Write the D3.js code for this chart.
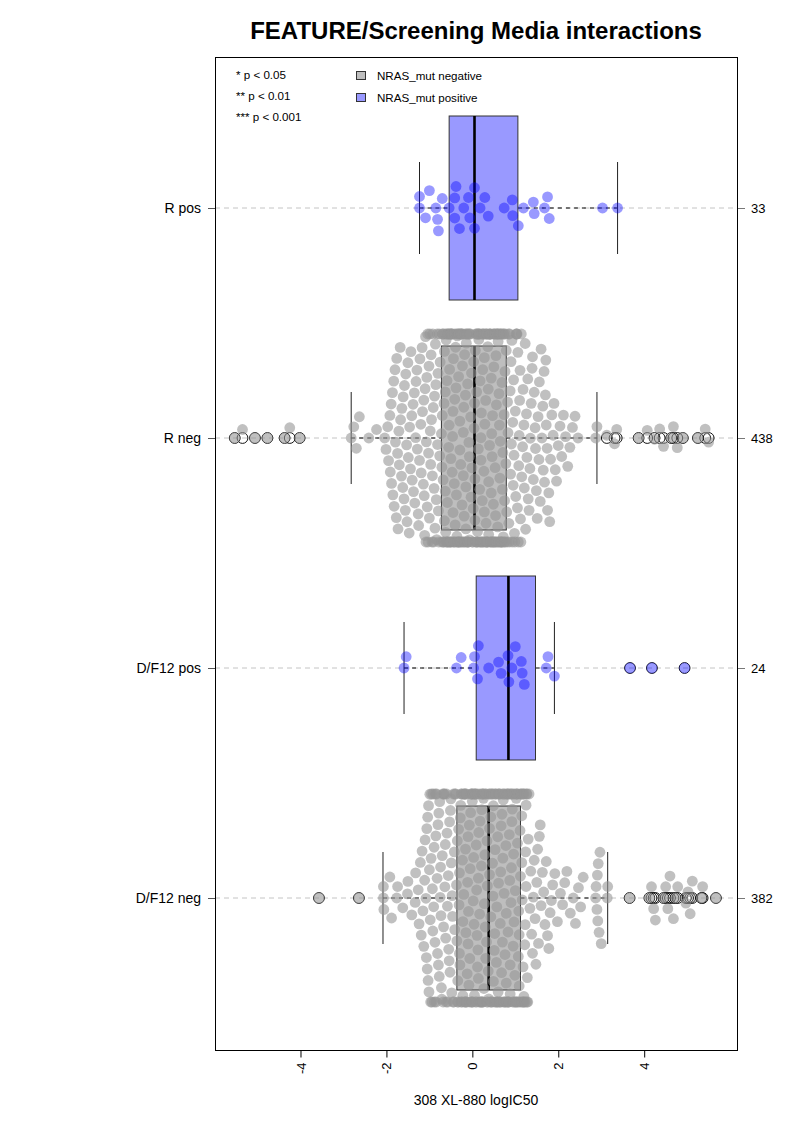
<!DOCTYPE html>
<html><head><meta charset="utf-8">
<script src="https://cdn.jsdelivr.net/npm/d3@7"></script>
<style>
body{margin:0;background:#fff}
text{font-family:"Liberation Sans",Arial,Helvetica,sans-serif;fill:#000}
</style></head>
<body><svg id="chart" width="793" height="1122"></svg>
<script>
// ---------------- data ----------------
const categories = ["R pos", "R neg", "D/F12 pos", "D/F12 neg"]; // top to bottom
const groupKind = ["pos", "neg", "pos", "neg"];

const rPosValues = [-1.23,-1.23,-1.09,-1.00,-0.85,-0.81,-0.79,-0.70,-0.54,-0.41,-0.41,-0.38,-0.30,-0.20,-0.09,-0.06,0.05,0.05,0.18,0.29,0.37,0.74,0.93,0.94,1.07,1.19,1.42,1.44,1.68,1.75,1.79,3.03,3.38];

const rNegValues = [-5.53,-5.35,-5.06,-4.77,-4.37,-4.25,-4.02,
 -2.82,-2.76,-2.70,-2.63,-2.41,-2.23,-2.04,-2.01,-1.97,-1.95,
 -1.92,-1.91,-1.89,-1.88,-1.86,-1.85,-1.83,-1.82,-1.80,-1.79,-1.77,-1.76,-1.74,-1.73,-1.71,-1.70,-1.68,-1.67,-1.65,-1.64,-1.62,-1.61,-1.59,-1.58,-1.56,-1.55,-1.53,-1.52,-1.50,-1.49,-1.47,-1.46,-1.44,-1.43,-1.41,-1.40,-1.38,-1.37,-1.35,-1.34,-1.32,-1.31,-1.29,-1.28,-1.26,-1.25,-1.23,-1.22,-1.20,-1.19,-1.17,-1.16,
 -1.14,-1.13,-1.12,-1.11,-1.10,-1.09,-1.08,-1.07,-1.06,-1.05,-1.04,-1.03,-1.02,-1.01,-1.00,-0.99,-0.98,-0.97,-0.96,-0.95,-0.94,-0.93,-0.92,-0.91,-0.90,-0.89,-0.88,-0.87,-0.86,-0.85,-0.84,-0.83,-0.82,-0.81,-0.80,-0.79,-0.78,-0.77,-0.76,-0.75,
 -0.72,-0.71,-0.71,-0.70,-0.69,-0.69,-0.68,-0.67,-0.67,-0.66,-0.65,-0.65,-0.64,-0.63,-0.63,-0.62,-0.61,-0.61,-0.60,-0.59,-0.59,-0.58,-0.57,-0.57,-0.56,-0.55,-0.55,-0.54,-0.53,-0.53,-0.52,-0.51,-0.51,-0.50,-0.49,-0.49,-0.48,-0.47,-0.47,-0.46,-0.45,-0.45,-0.44,-0.43,-0.43,-0.42,-0.41,-0.41,-0.40,-0.39,-0.39,-0.38,-0.37,-0.37,-0.36,-0.35,-0.35,-0.34,-0.33,-0.33,-0.32,-0.31,-0.31,-0.30,-0.29,-0.29,-0.28,-0.27,-0.27,-0.26,-0.25,-0.25,-0.24,-0.23,-0.23,-0.22,-0.21,-0.21,-0.20,-0.19,-0.19,-0.18,-0.17,-0.17,-0.16,-0.15,-0.15,-0.14,-0.13,-0.13,-0.12,-0.11,-0.11,-0.10,-0.09,-0.09,-0.08,-0.07,-0.07,-0.06,-0.05,-0.04,-0.03,-0.02,-0.01,0.00,0.01,0.02,0.03,0.04,
 0.05,0.06,0.06,0.07,0.08,0.08,0.09,0.10,0.10,0.11,0.12,0.12,0.13,0.14,0.14,0.15,0.16,0.16,0.17,0.18,0.18,0.19,0.20,0.20,0.21,0.22,0.22,0.23,0.24,0.24,0.25,0.26,0.26,0.27,0.28,0.28,0.29,0.30,0.30,0.31,0.32,0.32,0.33,0.34,0.34,0.35,0.36,0.36,0.37,0.38,0.38,0.39,0.40,0.40,0.41,0.42,0.42,0.43,0.44,0.44,0.45,0.46,0.46,0.47,0.48,0.48,0.49,0.50,0.50,0.51,0.52,0.52,0.53,0.54,0.54,0.55,0.56,0.56,0.57,0.58,0.58,0.59,0.60,0.60,0.61,0.62,0.62,0.63,0.64,0.64,0.65,0.66,0.66,0.67,0.68,0.68,0.69,0.70,0.70,0.71,0.72,0.72,0.73,0.74,0.74,0.75,0.76,0.76,0.77,0.78,
 0.79,0.80,0.81,0.82,0.83,0.84,0.85,0.86,0.87,0.88,0.89,0.90,0.91,0.92,0.93,0.94,0.95,0.96,0.97,0.98,0.99,1.00,1.01,1.02,1.03,1.04,1.05,1.06,1.07,1.08,1.09,1.10,1.11,1.12,1.13,1.14,1.15,
 1.17,1.18,1.20,1.21,1.23,1.24,1.26,1.27,1.29,1.30,1.32,1.34,1.35,1.37,1.39,1.40,1.42,1.44,1.46,1.47,1.49,1.51,1.53,1.55,1.56,1.58,1.60,1.62,1.64,1.65,1.67,1.68,1.70,1.71,1.72,1.74,1.75,
 1.78,1.80,1.82,1.85,1.88,1.90,1.93,1.96,2.00,2.04,2.08,2.12,2.17,2.22,2.27,2.33,2.39,2.46,2.87,2.90,
 3.13,3.31,3.36,3.87,4.07,4.24,4.36,4.45,4.63,4.68,4.77,4.90,5.25,5.42,5.50];

const dfPosValues = [-1.59,-1.54,-0.37,-0.26,0.03,0.05,0.12,0.14,0.38,0.61,0.67,0.83,0.85,0.92,1.00,1.14,1.16,1.21,1.72,1.76,1.91,3.67,4.18,4.94];

const dfNegValues = [-3.57,-2.64,
 -2.07,-2.07,-2.06,-1.92,-1.88,-1.76,-1.74,-1.62,-1.51,-1.50,-1.41,-1.33,-1.32,-1.26,-1.24,-1.21,-1.19,-1.17,-1.15,-1.13,-1.11,
 -1.10,-1.08,-1.07,-1.06,-1.05,-1.04,-1.03,-1.02,-1.01,-1.00,-0.99,-0.98,-0.97,-0.96,-0.95,-0.94,-0.93,-0.92,-0.91,-0.90,-0.89,-0.88,-0.87,-0.86,-0.85,-0.84,-0.83,-0.82,-0.81,-0.80,-0.79,-0.78,-0.77,-0.76,-0.75,-0.74,-0.73,-0.72,-0.71,-0.70,-0.69,-0.68,-0.67,-0.66,-0.65,-0.64,-0.63,-0.62,-0.61,-0.60,-0.59,-0.58,-0.57,-0.56,-0.55,-0.54,-0.53,-0.52,-0.51,-0.50,-0.49,-0.48,-0.47,-0.46,-0.45,-0.44,-0.43,-0.42,-0.41,-0.40,-0.39,-0.37,
 -0.36,-0.35,-0.34,-0.34,-0.33,-0.32,-0.31,-0.30,-0.30,-0.29,-0.28,-0.27,-0.26,-0.26,-0.25,-0.24,-0.23,-0.22,-0.22,-0.21,-0.20,-0.19,-0.18,-0.18,-0.17,-0.16,-0.16,-0.15,-0.14,-0.14,-0.13,-0.12,-0.11,-0.10,-0.10,-0.09,-0.08,-0.07,-0.06,-0.06,-0.05,-0.04,-0.03,-0.02,-0.02,-0.01,0.00,0.00,0.01,0.02,0.02,0.03,0.04,0.05,0.06,0.06,0.07,0.08,0.09,0.10,0.10,0.11,0.12,0.12,0.13,0.14,0.14,0.15,0.16,0.17,0.18,0.18,0.19,0.20,0.21,0.22,0.22,0.23,0.24,0.24,0.25,0.26,0.26,0.27,0.28,0.29,0.30,0.30,0.31,0.32,0.33,0.34,0.34,0.35,0.36,0.37,
 0.38,0.39,0.40,0.40,0.41,0.42,0.43,0.43,0.44,0.45,0.46,0.46,0.47,0.48,0.49,0.49,0.50,0.51,0.52,0.52,0.53,0.54,0.55,0.55,0.56,0.57,0.58,0.58,0.59,0.60,0.61,0.61,0.62,0.63,0.64,0.64,0.65,0.66,0.67,0.67,0.68,0.69,0.70,0.70,0.71,0.72,0.73,0.73,0.74,0.75,0.76,0.76,0.77,0.78,0.79,0.79,0.80,0.81,0.82,0.82,0.83,0.84,0.85,0.85,0.86,0.87,0.88,0.88,0.89,0.90,0.91,0.91,0.92,0.93,0.94,0.94,0.95,0.96,0.97,0.97,0.98,0.99,1.00,1.00,1.01,1.02,1.03,1.03,1.04,1.05,1.06,1.06,1.07,1.08,1.09,1.09,1.10,1.11,
 1.12,1.13,1.13,1.14,1.15,1.15,1.16,1.17,1.17,1.18,1.19,1.19,1.20,1.21,1.21,1.22,1.23,1.23,1.24,1.25,1.25,1.26,1.27,1.27,1.28,1.29,1.30,1.32,1.34,1.36,1.38,1.40,1.42,1.44,1.46,1.48,1.50,1.52,1.54,1.56,1.58,1.60,1.63,1.66,1.69,1.72,1.75,1.78,1.81,1.84,1.87,
 1.92,1.98,2.05,2.10,2.15,2.20,2.28,2.35,2.40,2.47,2.52,2.58,2.87,2.88,2.90,2.91,2.92,2.93,2.95,2.97,3.00,3.14,3.15,
 3.66,4.12,4.17,4.22,4.26,4.45,4.50,4.55,4.60,4.68,4.73,4.78,4.97,5.02,5.07,5.12,5.33,5.36,5.67];

// box statistics (top to bottom order)
const boxQ1      = [-0.54, -0.72, 0.09, -0.36];
const boxMedian  = [ 0.05,  0.05, 0.84,  0.38];
const boxQ3      = [ 1.06,  0.79, 1.47,  1.12];
const whiskerLow = [-1.23, -2.82, -1.59, -2.08];
const whiskerHigh= [ 3.38,  2.90, 1.91,  3.15];

const xTicks = [-4, -2, 0, 2, 4];
const legendLabels = ["NRAS_mut negative", "NRAS_mut positive"];
const sigLabels = ["* p < 0.05", "** p < 0.01", "*** p < 0.001"];
const titleText = "FEATURE/Screening Media interactions";
const xLabel = "308 XL-880 logIC50";

// ---------------- setup ----------------
const groups = [rPosValues, rNegValues, dfPosValues, dfNegValues];

const plot = {left: 215, right: 737, top: 57, bottom: 1050};
const x = d3.scaleLinear().domain([-5.99, 6.16]).range([plot.left, plot.right]);
const y = d3.scalePoint().domain(categories).range([208, 898]);

const fillPoint = {neg: "rgba(150,150,150,0.6)", pos: "rgba(0,0,255,0.4)"};
const fillBox = {neg: "#bebebe", pos: "#9999ff"};
const D = 11.5, R = 5.4, corral = 104, boxHalf = 92, stapleHalf = 46;

// beeswarm "swarm" method (ascending priority), offsets in px, positive = up
function swarmOffsets(vals) {
  const n = vals.length;
  const order = d3.range(n).sort((a, b) => (vals[a] - vals[b]) || (a - b));
  const xs = order.map(i => x(vals[i]) / D);
  const ys = new Array(n).fill(0);
  for (let ii = 1; ii < n; ii++) {
    const xi = xs[ii];
    const px = [], py = [];
    for (let j = 0; j < ii; j++) if (Math.abs(xi - xs[j]) < 1) { px.push(xs[j]); py.push(ys[j]); }
    if (!px.length) { ys[ii] = 0; continue; }
    const offs = px.map(p => Math.sqrt(1 - (xi - p) * (xi - p)));
    const cands = [0].concat(py.map((v, k) => v + offs[k]), py.map((v, k) => v - offs[k]));
    let best = 0, bestAbs = Infinity;
    for (const c of cands) {
      const a = Math.abs(c);
      if (a >= bestAbs) continue;
      let ok = true;
      for (let k = 0; k < px.length; k++) {
        const dx = xi - px[k], dy = c - py[k];
        if (dx * dx + dy * dy < 0.999) { ok = false; break; }
      }
      if (ok) { best = c; bestAbs = a; }
    }
    ys[ii] = best;
  }
  const res = new Array(n);
  order.forEach((oi, ii) => { res[oi] = Math.max(-corral, Math.min(corral, ys[ii] * D)); });
  return res;
}

// ---------------- drawing ----------------
const svg = d3.select("#chart");

svg.append("g").selectAll("line").data(categories).join("line")
  .attr("x1", plot.left).attr("x2", plot.right)
  .attr("y1", d => y(d)).attr("y2", d => y(d))
  .attr("stroke", "#c4c4c4").attr("stroke-width", 1).attr("stroke-dasharray", "5,4");

const gBox = svg.append("g");
categories.forEach((cat, i) => {
  const cy = y(cat);
  const g = gBox.append("g");
  g.append("line").attr("x1", x(whiskerLow[i])).attr("x2", x(boxQ1[i])).attr("y1", cy).attr("y2", cy)
    .attr("stroke", "#000").attr("stroke-dasharray", "4,4").attr("stroke-width", 1);
  g.append("line").attr("x1", x(boxQ3[i])).attr("x2", x(whiskerHigh[i])).attr("y1", cy).attr("y2", cy)
    .attr("stroke", "#000").attr("stroke-dasharray", "4,4").attr("stroke-width", 1);
  [whiskerLow[i], whiskerHigh[i]].forEach(w => {
    g.append("line").attr("x1", x(w)).attr("x2", x(w)).attr("y1", cy - stapleHalf).attr("y2", cy + stapleHalf)
      .attr("stroke", "#222").attr("stroke-width", 1);
  });
  g.append("rect").attr("x", x(boxQ1[i])).attr("y", cy - boxHalf)
    .attr("width", x(boxQ3[i]) - x(boxQ1[i])).attr("height", 2 * boxHalf)
    .attr("fill", fillBox[groupKind[i]]).attr("stroke", "#333").attr("stroke-width", 1);
  g.append("line").attr("x1", x(boxMedian[i])).attr("x2", x(boxMedian[i]))
    .attr("y1", cy - boxHalf).attr("y2", cy + boxHalf).attr("stroke", "#000").attr("stroke-width", 2.6);
  const outs = groups[i].filter(v => v < whiskerLow[i] - 1e-9 || v > whiskerHigh[i] + 1e-9);
  g.selectAll("circle.out").data(outs).join("circle").attr("class", "out")
    .attr("cx", v => x(v)).attr("cy", cy).attr("r", R)
    .attr("fill", "none").attr("stroke", "#111").attr("stroke-width", 1);
});

const gPts = svg.append("g");
categories.forEach((cat, i) => {
  const vals = groups[i];
  const offs = swarmOffsets(vals);
  gPts.append("g").selectAll("circle").data(vals.map((v, k) => ({v, o: offs[k]}))).join("circle")
    .attr("cx", d => x(d.v)).attr("cy", d => y(cat) - d.o).attr("r", R)
    .attr("fill", fillPoint[groupKind[i]]);
});

svg.append("rect").attr("x", plot.left + 0.5).attr("y", plot.top + 0.5)
  .attr("width", plot.right - plot.left).attr("height", plot.bottom - plot.top)
  .attr("fill", "none").attr("stroke", "#000").attr("stroke-width", 1);

const ax = svg.append("g").attr("transform", `translate(0,${plot.bottom + 0.5})`)
  .call(d3.axisBottom(x).tickValues(xTicks).tickSize(7).tickSizeOuter(0).tickFormat(d3.format("d")));
ax.select(".domain").remove();
ax.selectAll("line").attr("stroke", "#000");
ax.selectAll("text").attr("font-size", 13).attr("font-family", "Liberation Sans, Arial, sans-serif")
  .attr("transform", "rotate(-90)").attr("text-anchor", "end")
  .attr("x", -12).attr("y", 0).attr("dy", "0.35em").text(d => d < 0 ? "-" + Math.abs(d) : d);

const axL = svg.append("g").attr("transform", `translate(${plot.left},0)`)
  .call(d3.axisLeft(y).tickSize(7).tickSizeOuter(0));
axL.select(".domain").remove();
axL.selectAll("line").attr("stroke", "#555");
axL.selectAll("text").attr("font-size", 14).attr("font-family", "Liberation Sans, Arial, sans-serif").attr("x", -14);

const nCounts = groups.map(g => g.length);
const axR = svg.append("g").attr("transform", `translate(${plot.right + 1},0)`)
  .call(d3.axisRight(y).tickSize(7).tickSizeOuter(0).tickFormat(d => nCounts[categories.indexOf(d)]));
axR.select(".domain").remove();
axR.selectAll("line").attr("stroke", "#777");
axR.selectAll("text").attr("font-size", 13).attr("font-family", "Liberation Sans, Arial, sans-serif").attr("x", 13);

svg.append("text").attr("x", 476).attr("y", 39).attr("text-anchor", "middle")
  .attr("font-size", 24).attr("font-weight", "bold").text(titleText);
svg.append("text").attr("x", 476).attr("y", 1105).attr("text-anchor", "middle")
  .attr("font-size", 14).text(xLabel);

const gLeg = svg.append("g");
sigLabels.forEach((t, i) => {
  gLeg.append("text").attr("x", 236).attr("y", 79 + i * 21).attr("font-size", 11.6).text(t);
});
legendLabels.forEach((t, i) => {
  gLeg.append("rect").attr("x", 356.5).attr("y", 71.5 + i * 22).attr("width", 9).attr("height", 8)
    .attr("fill", i === 0 ? fillBox.neg : fillBox.pos).attr("stroke", "#333").attr("stroke-width", 1);
  gLeg.append("text").attr("x", 377).attr("y", 80 + i * 22).attr("font-size", 11.6).text(t);
});
</script>
</body></html>
